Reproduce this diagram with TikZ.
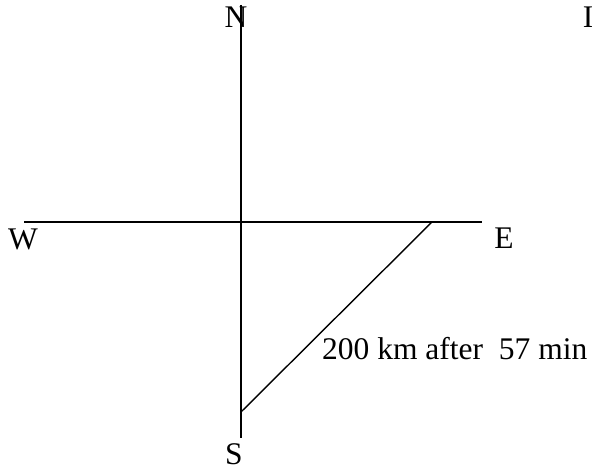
\documentclass[tikz,border=0pt]{standalone}
\usepackage{fontspec}
\setmainfont{Liberation Serif}
\usetikzlibrary{positioning, calc}

\begin{document}
\begin{tikzpicture}[
  x=1pt, y=1pt,
  dir/.style   = {inner sep=0pt, anchor=base, font=\fontsize{31.5}{36}\selectfont},
  axis/.style  = {line width=1.4pt},
]
  \useasboundingbox (0,0) rectangle (592,473);

  % axes ends
  \coordinate (ntop) at (241,468);
  \coordinate (sbot) at (241,35);
  \coordinate (wend) at (24,251);
  \coordinate (eend) at (482,251);
  \coordinate (hit)  at (432,251);
  \coordinate (low)  at (241,61);

  \draw[axis] (ntop) -- (sbot);
  \draw[axis] (wend) -- (eend);
  \draw[axis] (hit)  -- (low);

  \node[dir] (N) at (236,445) {N};
  \node[dir] (S) at (234,8)   {S};
  \node[dir] (W) at (23,223)  {W};
  \node[dir] (E) at (504,224) {E};
  \node[dir] (I) at (588,445) {I};

  \node[dir, anchor=base west] (dist) at (322,113) {200 km after\ \ 57 min};
\end{tikzpicture}
\end{document}
